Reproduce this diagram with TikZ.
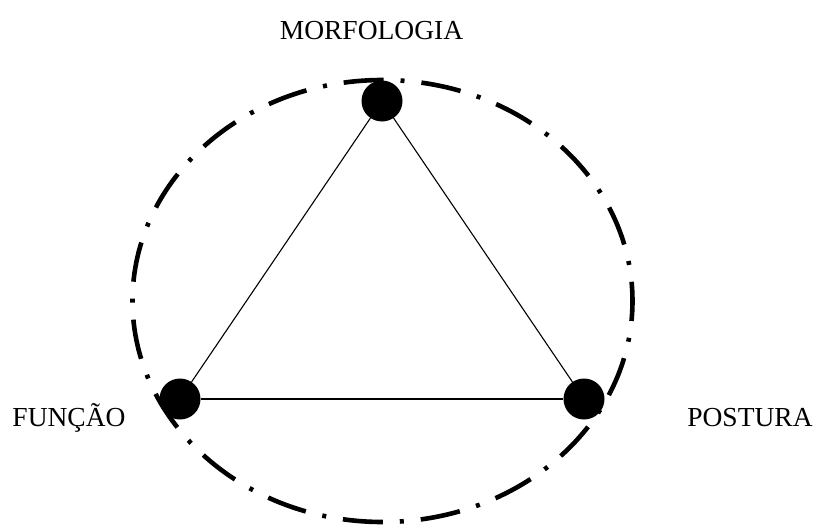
\documentclass[tikz,border=0pt]{standalone}
\usepackage{fontspec}
\setmainfont{Liberation Serif}
\begin{document}
\begin{tikzpicture}[x=1pt,y=-1pt,
  dotnode/.style={circle,fill=black,inner sep=0pt,minimum size=41pt},
  lbl/.style={inner sep=0pt,anchor=base,font=\fontsize{27.5}{30}\selectfont},
  edge/.style={line width=1.1pt},
  ring/.style={line width=4.6pt,dash pattern=on 40pt off 17pt on 4pt off 17pt,dash phase=20pt}]
\useasboundingbox (0,0) rectangle (817,525);
\draw[ring] (382.5,301) ellipse [x radius=250, y radius=221];
\node[dotnode] (m) at (382,101) {};
\node[dotnode] (f) at (180,399) {};
\node[dotnode] (p) at (584,399) {};
\draw[edge] (m) -- (f);
\draw[edge] (f) -- (p);
\draw[edge] (p) -- (m);
\node[lbl] (tm) at (371.5,39) {MORFOLOGIA};
\node[lbl] (tf) at (69,426) {FUNÇÃO};
\node[lbl] (tp) at (750,426) {POSTURA};
\end{tikzpicture}
\end{document}
